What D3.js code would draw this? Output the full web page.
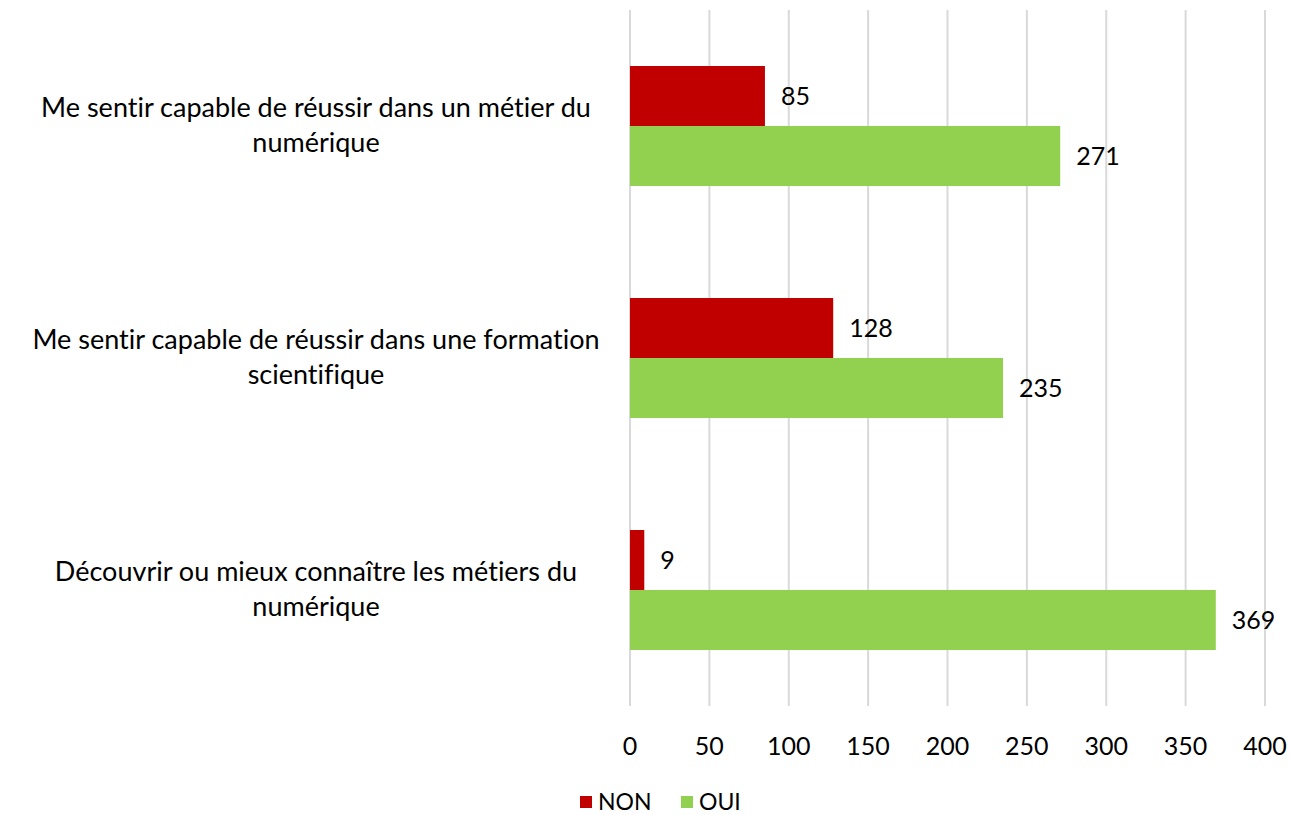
<!DOCTYPE html>
<meta charset="utf-8">
<head>
  <title>NON / OUI</title>
  <script src="https://d3js.org/d3.v7.min.js"></script>
  <style>
    body { margin: 0; background: #fff; font-family: "Lato", "Open Sans", sans-serif; }
    .grid line { stroke: #d9d9d9; stroke-width: 2; }
    .label { font-size: 25px; fill: #000; font-variant-ligatures: none; }
    .cat { font-size: 27px; }
    .leg { font-size: 23px; }
  </style>
</head>
<body>
<script>
  // Chart data
  var categories = [
    ["Me sentir capable de réussir dans un métier du", "numérique"],
    ["Me sentir capable de réussir dans une formation", "scientifique"],
    ["Découvrir ou mieux connaître les métiers du", "numérique"]
  ];
  var series = ["NON", "OUI"];
  var nonValues = [85, 128, 9];
  var ouiValues = [271, 235, 369];
  var xTicks = [0, 50, 100, 150, 200, 250, 300, 350, 400];
  var colors = ["#c00000", "#92d050"];

  var width = 1291, height = 815;
  var plot = { left: 630, right: 1265, top: 10, bottom: 706 };

  var svg = d3.select("body").append("svg")
    .attr("width", width)
    .attr("height", height);

  var x = d3.scaleLinear().domain([0, 400]).range([plot.left, plot.right]);
  var y = d3.scaleBand().domain(d3.range(categories.length)).range([plot.top, plot.bottom]);
  var barH = 60;

  // vertical gridlines
  svg.append("g").attr("class", "grid")
    .selectAll("line")
    .data(xTicks)
    .enter().append("line")
    .attr("x1", function(d) { return x(d); })
    .attr("x2", function(d) { return x(d); })
    .attr("y1", plot.top)
    .attr("y2", plot.bottom);

  // tick labels
  svg.append("g")
    .selectAll("text")
    .data(xTicks)
    .enter().append("text")
    .attr("class", "label")
    .attr("x", function(d) { return x(d); })
    .attr("y", 755)
    .attr("text-anchor", "middle")
    .text(function(d) { return d; });

  var allValues = [nonValues, ouiValues];
  allValues.forEach(function(vals, s) {
    var g = svg.append("g");
    g.selectAll("rect")
      .data(vals)
      .enter().append("rect")
      .attr("x", x(0))
      .attr("y", function(d, i) { return y(i) + y.bandwidth() / 2 - barH + s * barH; })
      .attr("width", function(d) { return x(d) - x(0); })
      .attr("height", barH)
      .attr("fill", colors[s]);
    g.selectAll("text")
      .data(vals)
      .enter().append("text")
      .attr("class", "label")
      .attr("x", function(d) { return x(d) + 16; })
      .attr("y", function(d, i) { return y(i) + y.bandwidth() / 2 - barH / 2 + s * barH; })
      .attr("dy", "0.35em")
      .text(function(d) { return d; });
  });

  // category labels
  svg.append("g")
    .selectAll("text")
    .data(categories)
    .enter().append("text")
    .attr("class", "label cat")
    .attr("text-anchor", "middle")
    .attr("x", 316)
    .attr("y", function(d, i) { return y(i) + y.bandwidth() / 2 - 9; })
    .each(function(d) {
      var t = d3.select(this);
      d.forEach(function(line, k) {
        t.append("tspan")
          .attr("x", 316)
          .attr("dy", k === 0 ? "0" : "35")
          .text(line);
      });
    });

  // legend
  var legend = svg.append("g");
  var legendX = [580, 681];
  series.forEach(function(name, i) {
    legend.append("rect")
      .attr("x", legendX[i])
      .attr("y", 796)
      .attr("width", 12)
      .attr("height", 12)
      .attr("fill", colors[i]);
    legend.append("text")
      .attr("class", "label leg")
      .attr("x", legendX[i] + 18)
      .attr("y", 810)
      .text(name);
  });
</script>
</body>
